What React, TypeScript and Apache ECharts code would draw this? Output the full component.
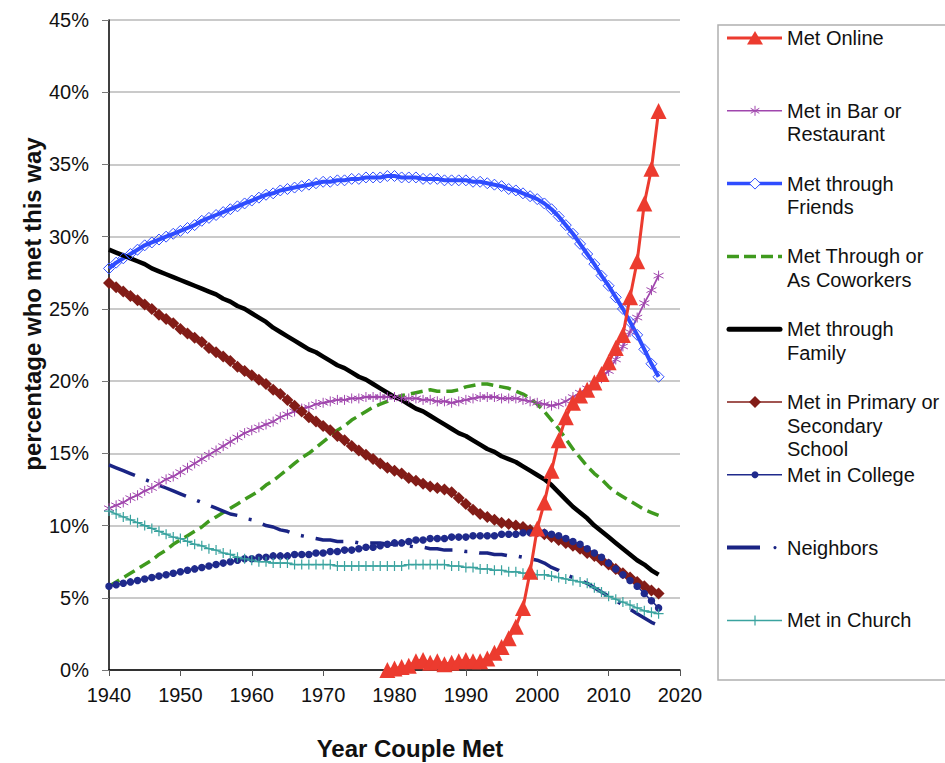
import React, { useEffect, useRef } from "react";
import * as echarts from "echarts";

const START_YEAR = 1940;
const ONLINE_START_YEAR = 1979;
const X_MIN = 1940;
const X_MAX = 2020;
const X_STEP = 10;
const Y_MIN = 0;
const Y_MAX = 45;
const Y_STEP = 5;

const metOnline = [
  0.0,
  0.1, 0.2, 0.3, 0.6, 0.7, 0.5, 0.6, 0.4, 0.5, 0.6,
  0.7, 0.6, 0.6, 0.8, 1.2, 1.6, 2.2, 3.0, 4.3, 6.8,
  9.8, 11.6, 13.8, 15.9, 17.5, 18.5, 19.0, 19.4, 19.9, 20.5,
  21.3, 22.3, 23.2, 25.8, 28.3, 32.3, 34.7, 38.7,
];

const metBar = [
  11.2, 11.4, 11.6, 11.9, 12.1, 12.4, 12.6, 12.9, 13.2, 13.4,
  13.7, 14.0, 14.3, 14.6, 14.9, 15.2, 15.5, 15.8, 16.1, 16.4,
  16.6, 16.8, 17.0, 17.2, 17.5, 17.7, 17.9, 18.1, 18.2, 18.4,
  18.5, 18.6, 18.7, 18.7, 18.8, 18.8, 18.9, 18.9, 18.9, 18.9,
  18.9, 18.8, 18.8, 18.8, 18.7, 18.7, 18.6, 18.6, 18.5, 18.6,
  18.7, 18.8, 18.9, 18.9, 18.9, 18.8, 18.8, 18.8, 18.7, 18.6,
  18.5, 18.4, 18.3, 18.4, 18.6, 18.9, 19.2, 19.5, 19.8, 20.2,
  20.7, 21.5, 22.4, 23.4, 24.4, 25.4, 26.3, 27.3,
];

const metFriends = [
  27.8, 28.2, 28.5, 28.8, 29.1, 29.4, 29.6, 29.8, 30.0, 30.2,
  30.4, 30.6, 30.8, 31.1, 31.3, 31.5, 31.7, 31.9, 32.1, 32.3,
  32.5, 32.7, 32.9, 33.0, 33.2, 33.3, 33.4, 33.5, 33.6, 33.7,
  33.8, 33.8, 33.9, 33.9, 34.0, 34.0, 34.1, 34.1, 34.1, 34.2,
  34.2, 34.1, 34.1, 34.1, 34.0, 34.0, 34.0, 33.9, 33.9, 33.9,
  33.9, 33.8, 33.8, 33.7, 33.6, 33.5, 33.3, 33.2, 33.0, 32.8,
  32.6, 32.3, 31.9, 31.4, 30.8, 30.2, 29.5, 28.8, 28.1, 27.3,
  26.6, 25.8, 25.0, 24.1, 23.2, 22.2, 21.2, 20.3,
];

const metCoworkers = [
  5.8, 6.1, 6.4, 6.7, 7.0, 7.3, 7.6, 8.0, 8.3, 8.7,
  9.0, 9.3, 9.6, 9.9, 10.3, 10.6, 10.9, 11.2, 11.5, 11.8,
  12.1, 12.4, 12.8, 13.1, 13.5, 13.9, 14.3, 14.7, 15.0, 15.4,
  15.8, 16.2, 16.6, 16.9, 17.3, 17.6, 17.9, 18.2, 18.4, 18.6,
  18.8, 19.0, 19.1, 19.2, 19.3, 19.4, 19.3, 19.3, 19.3, 19.4,
  19.6, 19.7, 19.8, 19.8, 19.7, 19.6, 19.5, 19.3, 19.1, 18.8,
  18.4, 17.9, 17.3, 16.7, 16.0, 15.3, 14.7, 14.1, 13.6, 13.2,
  12.7, 12.3, 12.0, 11.7, 11.4, 11.1, 10.9, 10.7,
];

const metFamily = [
  29.1, 28.9, 28.7, 28.5, 28.3, 28.1, 27.8, 27.6, 27.4, 27.2,
  27.0, 26.8, 26.6, 26.4, 26.2, 26.0, 25.7, 25.5, 25.2, 25.0,
  24.7, 24.4, 24.1, 23.7, 23.4, 23.1, 22.8, 22.5, 22.2, 22.0,
  21.7, 21.4, 21.1, 20.9, 20.6, 20.3, 20.1, 19.8, 19.5, 19.2,
  18.9, 18.7, 18.4, 18.1, 17.9, 17.6, 17.3, 17.0, 16.7, 16.4,
  16.2, 15.9, 15.6, 15.3, 15.1, 14.8, 14.6, 14.4, 14.1, 13.8,
  13.5, 13.2, 12.8, 12.3, 11.8, 11.3, 10.9, 10.5, 10.0, 9.6,
  9.2, 8.8, 8.4, 8.0, 7.6, 7.3, 6.9, 6.6,
];

const metSchool = [
  26.8, 26.5, 26.2, 25.9, 25.6, 25.3, 25.0, 24.6, 24.3, 24.0,
  23.6, 23.3, 23.0, 22.7, 22.3, 22.0, 21.7, 21.4, 21.0, 20.7,
  20.4, 20.1, 19.8, 19.4, 19.1, 18.7, 18.3, 17.9, 17.5, 17.2,
  16.9, 16.6, 16.2, 15.9, 15.5, 15.2, 14.9, 14.6, 14.3, 14.0,
  13.8, 13.6, 13.3, 13.1, 12.9, 12.7, 12.6, 12.5, 12.3, 11.9,
  11.5, 11.1, 10.8, 10.6, 10.4, 10.2, 10.1, 10.0, 9.9, 9.7,
  9.6, 9.4, 9.2, 9.0, 8.8, 8.6, 8.4, 8.1, 7.9, 7.6,
  7.3, 7.0, 6.7, 6.4, 6.1, 5.8, 5.5, 5.3,
];

const metCollege = [
  5.8, 5.9, 6.0, 6.1, 6.2, 6.3, 6.4, 6.5, 6.6, 6.7,
  6.8, 6.9, 7.0, 7.1, 7.2, 7.3, 7.4, 7.5, 7.6, 7.7,
  7.7, 7.8, 7.8, 7.9, 7.9, 7.9, 8.0, 8.0, 8.0, 8.1,
  8.1, 8.2, 8.2, 8.3, 8.3, 8.4, 8.5, 8.5, 8.6, 8.7,
  8.8, 8.8, 8.9, 9.0, 9.0, 9.1, 9.1, 9.1, 9.2, 9.2,
  9.2, 9.3, 9.3, 9.3, 9.3, 9.4, 9.4, 9.4, 9.5, 9.5,
  9.5, 9.5, 9.4, 9.3, 9.1, 8.9, 8.7, 8.4, 8.1, 7.8,
  7.4, 7.0, 6.6, 6.2, 5.8, 5.3, 4.8, 4.3,
];

const metNeighbors = [
  14.2, 14.0, 13.8, 13.6, 13.4, 13.2, 13.0, 12.8, 12.6, 12.4,
  12.2, 12.0, 11.8, 11.6, 11.4, 11.2, 11.0, 10.8, 10.7, 10.5,
  10.4, 10.2, 10.0, 9.9, 9.7, 9.6, 9.4, 9.3, 9.2, 9.1,
  9.0, 9.0, 8.9, 8.9, 8.9, 8.8, 8.8, 8.8, 8.8, 8.7,
  8.7, 8.6, 8.6, 8.5, 8.5, 8.4, 8.4, 8.3, 8.3, 8.3,
  8.2, 8.2, 8.1, 8.1, 8.0, 8.0, 7.9, 7.9, 7.8, 7.7,
  7.6, 7.4, 7.1, 6.9, 6.6, 6.4, 6.2, 6.0, 5.7, 5.4,
  5.1, 4.8, 4.5, 4.2, 3.9, 3.6, 3.3, 3.1,
];

const metChurch = [
  11.0, 10.8, 10.6, 10.4, 10.2, 10.0, 9.8, 9.6, 9.4, 9.2,
  9.1, 8.9, 8.7, 8.6, 8.4, 8.3, 8.1, 8.0, 7.8, 7.7,
  7.6, 7.5, 7.5, 7.4, 7.4, 7.4, 7.3, 7.3, 7.3, 7.3,
  7.3, 7.3, 7.2, 7.2, 7.2, 7.2, 7.2, 7.2, 7.2, 7.2,
  7.2, 7.2, 7.3, 7.3, 7.3, 7.3, 7.3, 7.3, 7.2, 7.2,
  7.1, 7.1, 7.0, 7.0, 6.9, 6.9, 6.8, 6.8, 6.7, 6.7,
  6.6, 6.6, 6.5, 6.4, 6.3, 6.2, 6.1, 6.0, 5.7, 5.4,
  5.1, 4.9, 4.7, 4.5, 4.3, 4.1, 4.0, 3.9,
];

const SERIES_NAMES = [
  "Met Online",
  "Met in Bar or Restaurant",
  "Met through Friends",
  "Met Through or As Coworkers",
  "Met through Family",
  "Met in Primary or Secondary School",
  "Met in College",
  "Neighbors",
  "Met in Church",
];

const LEGEND_LINES = [
  ["Met Online"],
  ["Met in Bar or", "Restaurant"],
  ["Met through", "Friends"],
  ["Met Through or", "As Coworkers"],
  ["Met through", "Family"],
  ["Met in Primary or", "Secondary", "School"],
  ["Met in College"],
  ["Neighbors"],
  ["Met in Church"],
];

const X_TITLE = "Year Couple Met";
const Y_TITLE = "percentage who met this way";

const FONT = "'Liberation Sans', Arial, Helvetica, sans-serif";

const C = {
  online: "#ec3b2f",
  bar: "#a046ad",
  friends: "#2f4dff",
  coworkers: "#3f9a1e",
  family: "#000000",
  school: "#821c17",
  college: "#1f2a8c",
  neighbors: "#1a2484",
  church: "#3aa39f",
};

const ASTERISK = "path://M5 0L5 10M0.7 2.5L9.3 7.5M9.3 2.5L0.7 7.5";
const PLUS = "path://M5 0L5 10M0 5L10 5";
const HOLLOW_DIAMOND = "path://M5 0L10 5L5 10L0 5Z";

function pairs(values: number[], start: number) {
  return values.map((v, i) => [start + i, v]);
}

export default function App() {
  const ref = useRef<HTMLDivElement>(null);

  useEffect(() => {
    document.body.style.margin = "0";
    const el = ref.current;
    if (!el) return;
    const chart = echarts.init(el, null, { renderer: "svg" });

    const legendX0 = 727;
    const legendX1 = 782;
    const legendMid = 755;
    const textX = 787;
    const firstY = 38;
    const step = 72.8;
    const lh = 23.5;

    const graphics: any[] = [];
    graphics.push({
      type: "rect",
      shape: { x: 718, y: 25, width: 260, height: 655 },
      style: { fill: "none", stroke: "#b0b0b0", lineWidth: 1.5 },
      silent: true,
    });

    const lineEl = (y: number, color: string, w: number, dash?: number[], x0 = legendX0, x1 = legendX1) => ({
      type: "line",
      shape: { x1: x0, y1: y, x2: x1, y2: y },
      style: { stroke: color, lineWidth: w, lineDash: dash, lineCap: "butt" },
      silent: true,
    });

    LEGEND_LINES.forEach((lines, i) => {
      const y = firstY + step * i;
      graphics.push({
        type: "text",
        x: textX,
        y: y - lh / 2,
        style: {
          text: lines.join("\n"),
          font: `20px ${FONT}`,
          fill: "#111",
          lineHeight: lh,
          verticalAlign: "top",
          align: "left",
        },
        silent: true,
      });
      const m = legendMid;
      if (i === 0) {
        graphics.push(lineEl(y, C.online, 3));
        graphics.push({
          type: "polygon",
          shape: { points: [[m, y - 7], [m + 8, y + 6.5], [m - 8, y + 6.5]] },
          style: { fill: C.online },
          silent: true,
        });
      } else if (i === 1) {
        graphics.push(lineEl(y, C.bar, 1.5));
        graphics.push({ type: "line", shape: { x1: m, y1: y - 5, x2: m, y2: y + 5 }, style: { stroke: C.bar, lineWidth: 1 }, silent: true });
        graphics.push({ type: "line", shape: { x1: m - 4.3, y1: y - 2.5, x2: m + 4.3, y2: y + 2.5 }, style: { stroke: C.bar, lineWidth: 1 }, silent: true });
        graphics.push({ type: "line", shape: { x1: m + 4.3, y1: y - 2.5, x2: m - 4.3, y2: y + 2.5 }, style: { stroke: C.bar, lineWidth: 1 }, silent: true });
      } else if (i === 2) {
        graphics.push(lineEl(y, C.friends, 3.5));
        graphics.push({
          type: "polygon",
          shape: { points: [[m, y - 5.5], [m + 5.5, y], [m, y + 5.5], [m - 5.5, y]] },
          style: { fill: "#fff", stroke: C.friends, lineWidth: 1 },
          silent: true,
        });
      } else if (i === 3) {
        graphics.push(lineEl(y, C.coworkers, 3.5, [12, 5]));
      } else if (i === 4) {
        graphics.push({
          type: "line",
          shape: { x1: legendX0 + 2, y1: y, x2: legendX1 - 2, y2: y },
          style: { stroke: C.family, lineWidth: 5, lineCap: "round" },
          silent: true,
        });
      } else if (i === 5) {
        graphics.push(lineEl(y, C.school, 1.5));
        graphics.push({
          type: "polygon",
          shape: { points: [[m, y - 6], [m + 6, y], [m, y + 6], [m - 6, y]] },
          style: { fill: C.school },
          silent: true,
        });
      } else if (i === 6) {
        graphics.push(lineEl(y, C.college, 1.5));
        graphics.push({ type: "circle", shape: { cx: m, cy: y, r: 3.5 }, style: { fill: C.college }, silent: true });
      } else if (i === 7) {
        graphics.push(lineEl(y, C.neighbors, 4, undefined, legendX0, 760));
        graphics.push({ type: "circle", shape: { cx: 775, cy: y, r: 1.6 }, style: { fill: C.neighbors }, silent: true });
      } else if (i === 8) {
        graphics.push(lineEl(y, C.church, 1.5));
        graphics.push({ type: "line", shape: { x1: m, y1: y - 5, x2: m, y2: y + 5 }, style: { stroke: C.church, lineWidth: 1.2 }, silent: true });
      }
    });

    graphics.push({
      type: "text",
      x: 410,
      y: 748,
      style: {
        text: X_TITLE,
        font: `bold 24px ${FONT}`,
        fill: "#111",
        align: "center",
        verticalAlign: "middle",
      },
      silent: true,
    });
    graphics.push({
      type: "text",
      x: 32,
      y: 304,
      rotation: Math.PI / 2,
      style: {
        text: Y_TITLE,
        font: `bold 24px ${FONT}`,
        fill: "#111",
        align: "center",
        verticalAlign: "middle",
      },
      silent: true,
    });

    const markerLine = (
      name: string,
      values: number[],
      start: number,
      color: string,
      width: number,
      symbol: string,
      size: number,
      itemStyle: any,
      extra: any = {}
    ) => ({
      name,
      type: "line",
      data: pairs(values, start),
      symbol,
      symbolSize: size,
      showSymbol: symbol !== "none",
      lineStyle: { color, width, ...(extra.lineStyle || {}) },
      itemStyle,
      z: extra.z ?? 2,
      clip: false,
    });

    const series = [
      markerLine(SERIES_NAMES[1], metBar, START_YEAR, C.bar, 1.8, ASTERISK, 10, {
        color: "rgba(0,0,0,0)",
        borderColor: C.bar,
        borderWidth: 1,
      }),
      markerLine(SERIES_NAMES[2], metFriends, START_YEAR, C.friends, 4, HOLLOW_DIAMOND, 11, {
        color: "rgba(0,0,0,0)",
        borderColor: C.friends,
        borderWidth: 1,
      }),
      markerLine(SERIES_NAMES[3], metCoworkers, START_YEAR, C.coworkers, 3.5, "none", 0, { color: C.coworkers }, {
        lineStyle: { type: [12, 6] },
      }),
      markerLine(SERIES_NAMES[4], metFamily, START_YEAR, C.family, 4.5, "none", 0, { color: C.family }),
      markerLine(SERIES_NAMES[5], metSchool, START_YEAR, C.school, 2, "diamond", 12, { color: C.school }),
      markerLine(SERIES_NAMES[6], metCollege, START_YEAR, C.college, 1.5, "circle", 7.5, { color: C.college }),
      markerLine(SERIES_NAMES[7], metNeighbors, START_YEAR, C.neighbors, 3.5, "none", 0, { color: C.neighbors }, {
        lineStyle: { type: [28, 12, 3, 12] },
      }),
      markerLine(SERIES_NAMES[8], metChurch, START_YEAR, C.church, 1.5, PLUS, 10, {
        color: "rgba(0,0,0,0)",
        borderColor: C.church,
        borderWidth: 1.2,
      }),
      markerLine(SERIES_NAMES[0], metOnline, ONLINE_START_YEAR, C.online, 3, "triangle", 16, { color: C.online }, { z: 3 }),
    ];

    chart.setOption({
      animation: false,
      backgroundColor: "#fff",
      textStyle: { fontFamily: FONT },
      grid: { left: 109, right: 265, top: 20, bottom: 93, containLabel: false },
      xAxis: {
        type: "value",
        min: X_MIN,
        max: X_MAX,
        interval: X_STEP,
        axisLine: { show: true, lineStyle: { color: "#000", width: 1.5 } },
        axisTick: { show: true, inside: false, length: 6, lineStyle: { color: "#555", width: 1 } },
        axisLabel: { color: "#111", fontSize: 20, margin: 15, fontFamily: FONT, formatter: (v: number) => String(v) },
        splitLine: { show: false },
      },
      yAxis: {
        type: "value",
        min: Y_MIN,
        max: Y_MAX,
        interval: Y_STEP,
        axisLine: { show: true, lineStyle: { color: "#000", width: 1.5 } },
        axisTick: { show: true, inside: false, length: 7, lineStyle: { color: "#777", width: 1 } },
        axisLabel: { color: "#111", fontSize: 20, margin: 20, fontFamily: FONT, formatter: "{value}%" },
        splitLine: { show: true, lineStyle: { color: "#b8b8b8", width: 1.5 } },
      },
      series,
      graphic: graphics,
    });

    return () => {
      chart.dispose();
    };
  }, []);

  return <div ref={ref} style={{ width: 945, height: 763 }} />;
}
